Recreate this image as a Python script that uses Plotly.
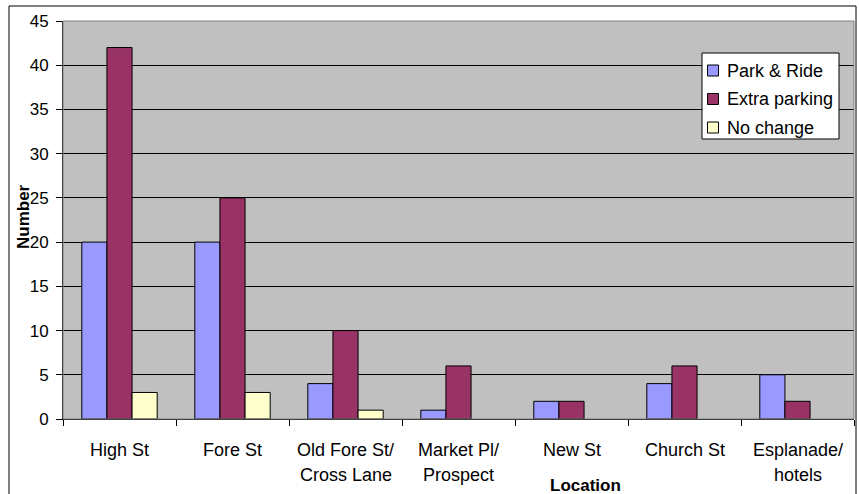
import plotly.graph_objects as go

categories = ["High St", "Fore St", "Old Fore St/<br>Cross Lane", "Market Pl/<br>Prospect",
              "New St", "Church St", "Esplanade/<br>hotels"]
park_ride = [20, 20, 4, 1, 2, 4, 5]
extra_parking = [42, 25, 10, 6, 2, 6, 2]
no_change = [3, 3, 1, 0, 0, 0, 0]
series_names = ["Park & Ride", "Extra parking", "No change"]
series_colors = ["#9999FF", "#993366", "#FFFFCC"]
y_ticks = [0, 5, 10, 15, 20, 25, 30, 35, 40, 45]

FONT = "Arial, Liberation Sans, sans-serif"
W, H = 859, 494
L, R, T, B = 63, 5, 21, 75
PW, PH = W - L - R, H - T - B


def px(x):
    return (x - L) / PW


def py(y):
    return (H - B - y) / PH


fig = go.Figure()
for name, vals, col in zip(series_names, [park_ride, extra_parking, no_change], series_colors):
    fig.add_trace(go.Bar(
        x=categories, y=[v if v else None for v in vals], name=name,
        marker=dict(color=col, line=dict(color="black", width=1)),
    ))

annotations = []
for cat in categories:
    for i, line in enumerate(cat.split("<br>")):
        annotations.append(dict(
            x=cat, xref="x", y=0, yref="paper", text=line, showarrow=False,
            yanchor="top", xanchor="center", yshift=-19 - 25 * i,
            font=dict(family=FONT, size=18, color="black"),
        ))
annotations.append(dict(
    x=px(585), xref="paper", y=py(485), yref="paper",
    text="<b>Location</b>", showarrow=False, xanchor="center", yanchor="middle",
    font=dict(family=FONT, size=17, color="black"),
))
annotations.append(dict(
    x=px(23), xref="paper", y=py(217), yref="paper",
    text="<b>Number</b>", showarrow=False, xanchor="center", yanchor="middle",
    textangle=-90, font=dict(family=FONT, size=17, color="black"),
))

shapes = [
    # plot area border
    dict(type="rect", xref="paper", yref="paper", x0=0, x1=1, y0=0, y1=1,
         line=dict(color="#808080", width=1), layer="above"),
    # outer chart border
    dict(type="rect", xref="paper", yref="paper",
         x0=px(9), x1=px(856), y0=py(510), y1=py(6),
         line=dict(color="black", width=1)),
    # legend box
    dict(type="rect", xref="paper", yref="paper",
         x0=px(702), x1=px(839), y0=py(139), y1=py(53),
         fillcolor="white", line=dict(color="black", width=1), layer="above"),
]

legend_rows = [70.5, 99, 127.5]
for name, col, yc in zip(series_names, series_colors, legend_rows):
    shapes.append(dict(
        type="rect", xref="paper", yref="paper",
        x0=px(707.5), x1=px(718.5), y0=py(yc + 5.5), y1=py(yc - 5.5),
        fillcolor=col, line=dict(color="black", width=1), layer="above",
    ))
    annotations.append(dict(
        x=px(725), xref="paper", y=py(yc), yref="paper", text=name,
        showarrow=False, xanchor="left", yanchor="middle",
        font=dict(family=FONT, size=18, color="black"),
    ))

fig.update_layout(
    width=W, height=H,
    margin=dict(l=L, r=R, t=T, b=B, pad=0),
    paper_bgcolor="white", plot_bgcolor="#C0C0C0",
    barmode="group", bargap=0.333, bargroupgap=0,
    font=dict(family=FONT, size=17, color="black"),
    showlegend=False,
    annotations=annotations,
    shapes=shapes,
)
fig.update_xaxes(
    type="category", showticklabels=False, ticks="outside", ticklen=6,
    tickson="boundaries", tickcolor="black", showline=True, linecolor="black",
    linewidth=1, showgrid=False, zeroline=False,
)
fig.update_yaxes(
    range=[0, 45], tickvals=y_ticks, ticktext=[str(v) for v in y_ticks],
    ticks="outside", ticklen=6, tickcolor="black", showline=True,
    linecolor="black", linewidth=1, showgrid=True, gridcolor="black",
    gridwidth=1, zeroline=False, tickfont=dict(family=FONT, size=17),
    ticklabelstandoff=4,
)

fig.write_html(
    "out.html",
    config={"displayModeBar": False},
    post_script="document.body.style.margin='0';document.body.style.overflow='hidden';",
)
